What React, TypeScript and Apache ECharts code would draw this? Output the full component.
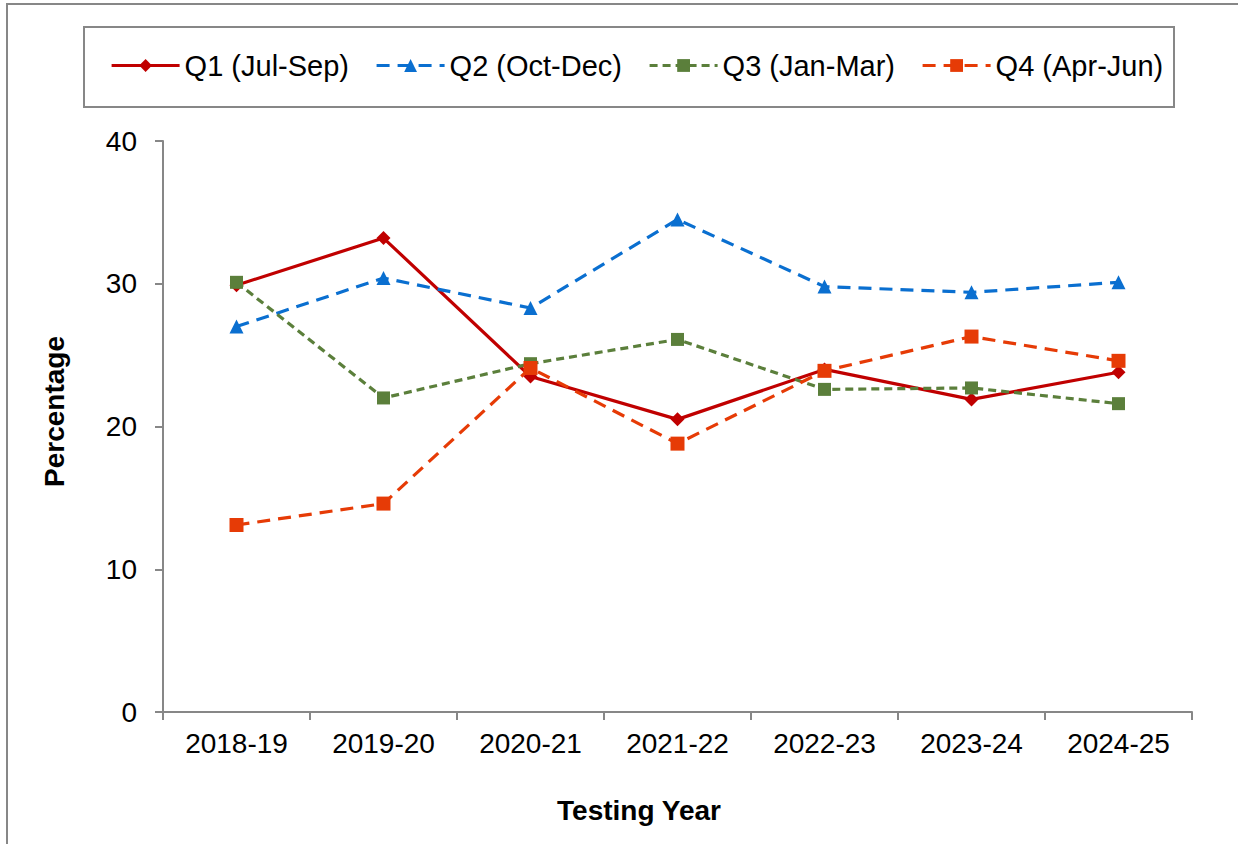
import React, { useEffect, useRef } from "react";
import * as echarts from "echarts";

const years = ["2018-19", "2019-20", "2020-21", "2021-22", "2022-23", "2023-24", "2024-25"];
const q1 = [29.9, 33.2, 23.5, 20.5, 24.0, 21.9, 23.8];
const q2 = [27.0, 30.4, 28.3, 34.5, 29.8, 29.4, 30.1];
const q3 = [30.1, 22.0, 24.4, 26.1, 22.6, 22.7, 21.6];
const q4 = [13.1, 14.6, 24.1, 18.8, 23.9, 26.3, 24.6];
const seriesNames = ["Q1 (Jul-Sep)", "Q2 (Oct-Dec)", "Q3 (Jan-Mar)", "Q4 (Apr-Jun)"];

const FONT = "'Liberation Sans', Arial, sans-serif";
const GRAY = "#878787";

export default function App() {
  const ref = useRef<HTMLDivElement>(null);
  useEffect(() => {
    if (!ref.current) return;
    const chart = echarts.init(ref.current, undefined, { renderer: "svg" });
    const mk = (
      name: string,
      data: number[],
      color: string,
      symbol: string,
      size: number,
      type: any,
      width: number
    ) => ({
      name,
      type: "line",
      data,
      symbol,
      symbolSize: size,
      showAllSymbol: true,
      lineStyle: { color, width, type },
      itemStyle: { color, borderWidth: 0 },
      emphasis: { disabled: true },
    });
    chart.setOption({
      animation: false,
      backgroundColor: "#ffffff",
      textStyle: { fontFamily: FONT },
      graphic: [
        {
          type: "rect",
          shape: { x: 7, y: 4, width: 1400, height: 1000 },
          style: { fill: "none", stroke: GRAY, lineWidth: 2 },
          silent: true,
        },
        {
          type: "rect",
          shape: { x: 84, y: 27, width: 1090, height: 80 },
          style: { fill: "none", stroke: GRAY, lineWidth: 2 },
          silent: true,
        },
      ],
      legend: {
        left: 110,
        top: 51,
        padding: 0,
        itemWidth: 68,
        itemHeight: 16,
        itemGap: 26,
        selectedMode: false,
        lineStyle: { width: 3.2 },
        textStyle: { fontSize: 29, color: "#000", fontFamily: FONT },
        data: seriesNames,
      },
      grid: { left: 163, right: 46, top: 141, bottom: 132 },
      xAxis: {
        type: "category",
        data: years,
        boundaryGap: true,
        name: "Testing Year",
        nameLocation: "middle",
        nameGap: 84,
        nameTextStyle: {
          fontSize: 28,
          fontWeight: "bold",
          color: "#000",
          fontFamily: FONT,
          padding: [0, 77, 0, 0],
        },
        axisLine: { lineStyle: { color: GRAY, width: 2 } },
        axisTick: { show: true, length: 8, lineStyle: { color: GRAY, width: 2 } },
        axisLabel: { fontSize: 28, color: "#000", margin: 17, fontFamily: FONT },
      },
      yAxis: {
        type: "value",
        min: 0,
        max: 40,
        interval: 10,
        name: "Percentage",
        nameLocation: "middle",
        nameGap: 95,
        nameTextStyle: {
          fontSize: 28,
          fontWeight: "bold",
          color: "#000",
          fontFamily: FONT,
          padding: [0, 0, 0, 30],
        },
        axisLine: { show: true, lineStyle: { color: GRAY, width: 2 } },
        axisTick: { show: true, length: 8, lineStyle: { color: GRAY, width: 2 } },
        splitLine: { show: false },
        axisLabel: { fontSize: 28, color: "#000", margin: 26, fontFamily: FONT },
      },
      series: [
        mk(seriesNames[0], q1, "#C00000", "diamond", 14, "solid", 3.2),
        mk(seriesNames[1], q2, "#0A6FD0", "triangle", 14, [13, 8], 3.2),
        mk(seriesNames[2], q3, "#5B7F3B", "rect", 13, [8, 5], 3.2),
        mk(seriesNames[3], q4, "#E63B06", "rect", 14, [13, 8], 3.2),
      ],
    });
    return () => chart.dispose();
  }, []);
  return (
    <div
      ref={ref}
      style={{ position: "fixed", left: 0, top: 0, width: 1238, height: 844 }}
    />
  );
}
